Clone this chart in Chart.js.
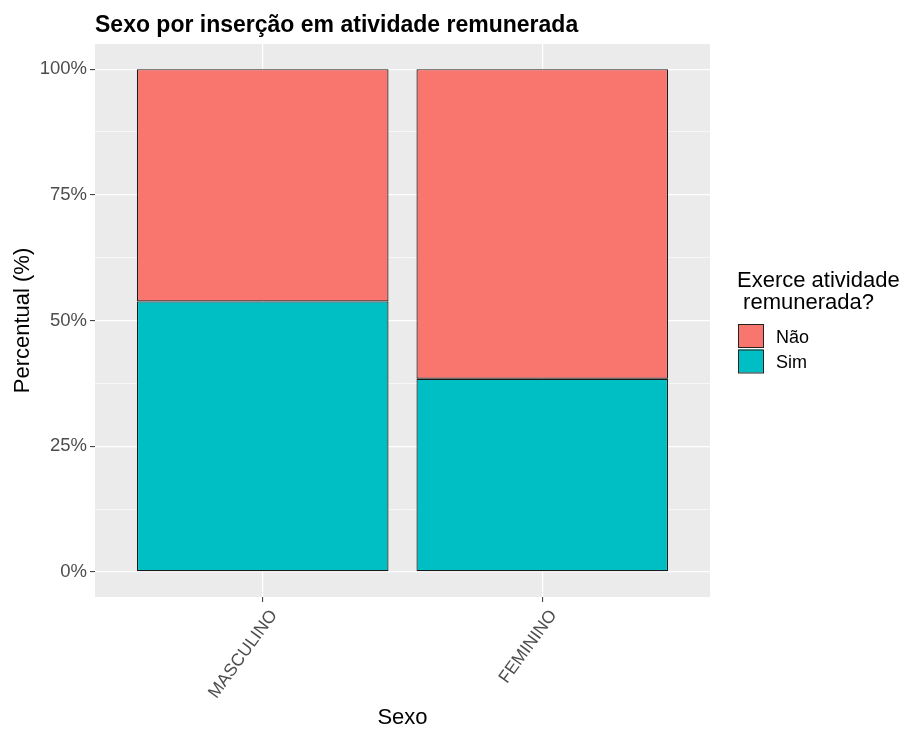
<!DOCTYPE html>
<html><head><meta charset="utf-8">
<script src="https://cdn.jsdelivr.net/npm/chart.js@4.4.1/dist/chart.umd.min.js"></script>
<style>html,body{margin:0;padding:0;background:#fff;}#wrap{width:909px;height:729px;position:relative;}</style>
</head><body><div id="wrap"><canvas id="c" width="909" height="729"></canvas></div>
<script>
const categories = ['MASCULINO', 'FEMININO'];
const seriesNames = ['Não', 'Sim'];
const naoValues = [46.2, 61.6];
const simValues = [53.8, 38.4];
const yTickValues = [0, 12.5, 25, 37.5, 50, 62.5, 75, 87.5, 100];
const chartTitle = 'Sexo por inserção em atividade remunerada';
const legendTitle = ['Exerce atividade', ' remunerada?'];
const xTitle = 'Sexo';
const yTitle = 'Percentual (%)';
const seriesColors = { 'Não': '#F8766D', 'Sim': '#00BFC4' };

const FONT = '"Liberation Sans", Arial, sans-serif';

const panelBg = {
  id: 'panelBg',
  beforeDraw(chart) {
    const { ctx, chartArea: a } = chart;
    ctx.save();
    ctx.fillStyle = '#EBEBEB';
    ctx.fillRect(a.left, a.top, a.right - a.left, a.bottom - a.top);
    ctx.restore();
  }
};

const titleAndLegend = {
  id: 'titleAndLegend',
  afterDraw(chart) {
    const { ctx, chartArea: a } = chart;
    ctx.save();
    ctx.fillStyle = '#000';
    ctx.textBaseline = 'alphabetic';
    ctx.textAlign = 'left';
    ctx.font = 'bold 23px ' + FONT;
    ctx.fillText(chartTitle, a.left, 32);
    ctx.font = '22px ' + FONT;
    ctx.fillText(legendTitle[0], 737, 287);
    ctx.fillText(legendTitle[1], 737, 309);
    const items = [seriesNames[0], seriesNames[1]];
    items.forEach((name, i) => {
      const y0 = 324 + i * 25.5;
      ctx.fillStyle = seriesColors[name];
      ctx.fillRect(738, y0, 25, 23);
      ctx.strokeStyle = '#222';
      ctx.lineWidth = 1;
      ctx.strokeRect(738.5, y0 + 0.5, 25, 23);
      ctx.fillStyle = '#000';
      ctx.font = '18px ' + FONT;
      ctx.fillText(name, 776, y0 + 18.5);
    });
    ctx.restore();
  }
};

const ctx = document.getElementById('c').getContext('2d');
new Chart(ctx, {
  type: 'bar',
  data: {
    datasets: [
      {
        label: seriesNames[1],
        data: categories.map((c, i) => ({ x: i + 1, y: simValues[i] })),
        backgroundColor: seriesColors['Sim'],
        borderColor: '#1a1a1a',
        borderWidth: 1.2,
        borderSkipped: false
      },
      {
        label: seriesNames[0],
        data: categories.map((c, i) => ({ x: i + 1, y: naoValues[i] })),
        backgroundColor: seriesColors['Não'],
        borderColor: '#1a1a1a',
        borderWidth: 1.2,
        borderSkipped: false
      }
    ]
  },
  options: {
    responsive: false,
    devicePixelRatio: 1,
    animation: false,
    barPercentage: 0.9,
    categoryPercentage: 1,
    layout: { padding: { top: 44, right: 199, bottom: 0, left: 0 } },
    plugins: { legend: { display: false }, tooltip: { enabled: false }, title: { display: false } },
    scales: {
      x: {
        type: 'linear',
        min: 0.4,
        max: 2.6,
        offset: false,
        stacked: true,
        afterBuildTicks: s => { s.ticks = categories.map((c, i) => ({ value: i + 1 })); },
        afterFit: s => { s.height = 132; },
        border: { display: false },
        grid: { offset: false, color: '#FFFFFF', lineWidth: 1.2, tickColor: '#333333', tickLength: 5, tickWidth: 1 },
        ticks: {
          autoSkip: false,
          minRotation: 54,
          maxRotation: 54,
          padding: 4,
          labelOffset: 11,
          color: '#4D4D4D',
          font: { family: FONT, size: 17.5 },
          callback: (v, i) => categories[i]
        },
        title: { display: true, text: xTitle, color: '#000', font: { family: FONT, size: 22, lineHeight: 1 }, padding: 0 }
      },
      y: {
        type: 'linear',
        min: -5,
        max: 105,
        stacked: true,
        afterBuildTicks: s => { s.ticks = yTickValues.map(v => ({ value: v })); },
        afterFit: s => { s.width = 95; },
        border: { display: false },
        grid: {
          color: '#FFFFFF',
          lineWidth: c => (c.tick && c.tick.value % 25 === 0) ? 1.2 : 0.6,
          tickColor: c => (c.tick && c.tick.value % 25 === 0) ? '#333333' : 'rgba(0,0,0,0)',
          tickLength: 5,
          tickWidth: 1
        },
        ticks: {
          autoSkip: false,
          padding: 3,
          color: '#4D4D4D',
          font: { family: FONT, size: 18.5 },
          callback: v => (v % 25 === 0) ? v + '%' : ''
        },
        title: { display: true, text: yTitle, color: '#000', font: { family: FONT, size: 22 }, padding: { top: 10, bottom: 0 } }
      }
    }
  },
  plugins: [panelBg, titleAndLegend]
});
</script>
</body></html>
